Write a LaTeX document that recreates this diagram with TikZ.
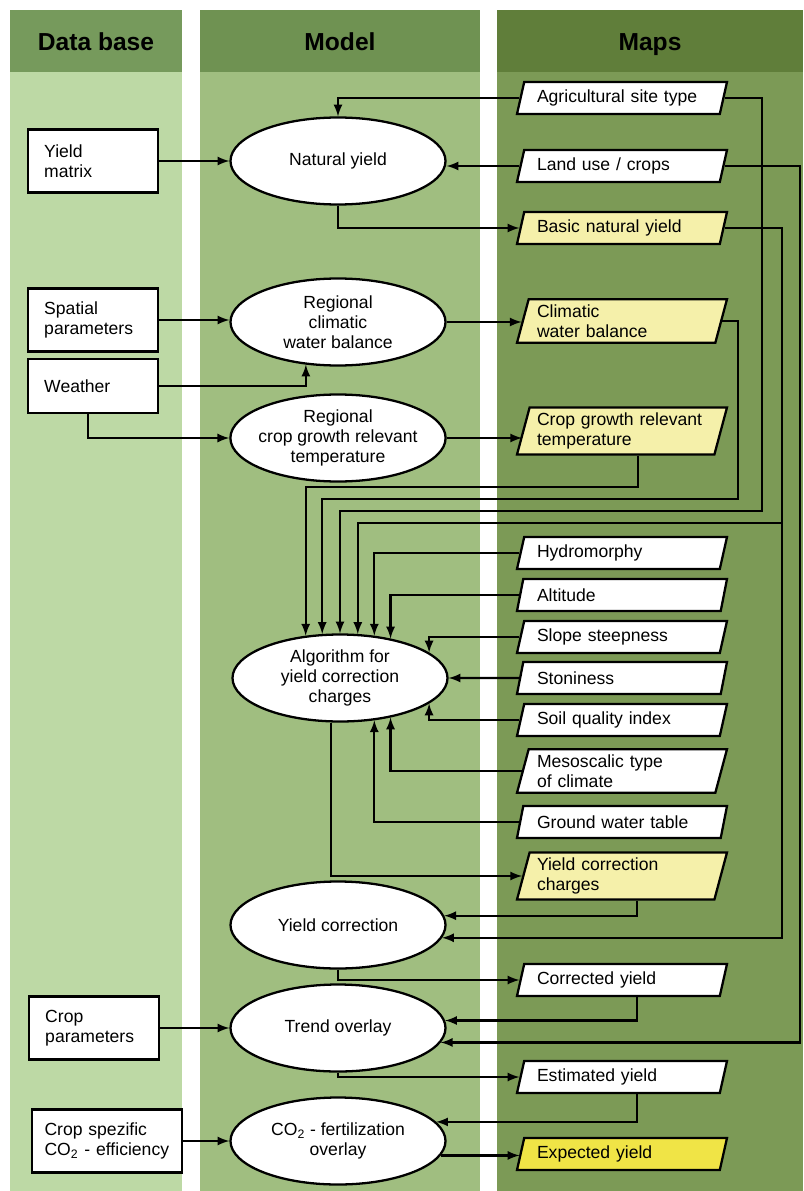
\documentclass[tikz,border=0pt]{standalone}
\usepackage{fontspec}
\setmainfont{Liberation Sans}
\usepackage{tikz}
\usetikzlibrary{shapes.geometric}
\definecolor{dbhead}{HTML}{769A5C}
\definecolor{dbbody}{HTML}{BDD9A5}
\definecolor{mohead}{HTML}{6F9252}
\definecolor{mobody}{HTML}{A0BE80}
\definecolor{mphead}{HTML}{607E3A}
\definecolor{mpbody}{HTML}{7C9A56}
\definecolor{paleyel}{HTML}{F5F0AA}
\definecolor{brightyel}{HTML}{F0E446}
\tikzstyle{every picture}=[->,>=latex]
\tikzstyle{dbbox}=[draw,fill=white,rectangle,minimum width=2.6cm,minimum height=1.26cm,text width=1.95cm,align=left,inner sep=2pt]
\tikzstyle{modell}=[draw,fill=white,ellipse,minimum width=4.3cm,minimum height=1.74cm,align=center,inner sep=0pt]
\tikzstyle{mapbox}=[draw,fill=white,trapezium,trapezium left angle=75,trapezium right angle=105,trapezium stretches body,minimum width=4.2cm,minimum height=0.64cm,text width=3.4cm,align=left,inner xsep=2pt,inner ysep=3pt]
\tikzstyle{head}=[anchor=base,font=\fontsize{14}{16}\selectfont\bfseries]

\begin{document}
\begin{tikzpicture}[x=0.2mm,y=-0.2mm,line width=1.3pt,font=\fontsize{10}{11.5}\selectfont]
    \useasboundingbox (0,0) rectangle (803,1191);
    % Columns
    \fill[dbhead] (10,10) rectangle (182,72);
    \fill[dbbody] (10,72) rectangle (182,1191);
    \fill[mohead] (200,10) rectangle (480,72);
    \fill[mobody] (200,72) rectangle (480,1191);
    \fill[mphead] (497,10) rectangle (803,72);
    \fill[mpbody] (497,72) rectangle (803,1191);
    \node[head] (dbh) at (96,51) {Data base};
    \node[head] (moh) at (340,51) {Model};
    \node[head] (mph) at (650,51) {Maps};
    % Data base
    \node[dbbox] (ym) at (93,161) {Yield\\matrix};
    \node[dbbox] (sp) at (93,320) {Spatial\\parameters};
    \node[dbbox,minimum height=1.08cm] (we) at (93,386) {Weather};
    \node[dbbox] (cp) at (94,1028) {Crop\\parameters};
    \node[dbbox,minimum width=3cm,text width=2.5cm] (cs) at (107,1141) {Crop spezific\\CO\textsubscript{2} - efficiency};
    % Model
    \node[modell] (ny) at (338,161) {Natural yield};
    \node[modell] (cwb) at (338,322) {Regional\\climatic\\water balance};
    \node[modell,inner xsep=-2pt] (te) at (338,438) {Regional\\crop growth relevant\\temperature};
    \node[modell] (algo) at (340,678) {Algorithm for\\yield correction\\charges};
    \node[modell] (yc) at (338,925) {Yield correction};
    \node[modell] (tov) at (338,1028) {Trend overlay};
    \node[modell] (co2) at (338,1141) {CO\textsubscript{2} - fertilization\\overlay};
    % Maps
    \node[mapbox] (ag) at (622,98) {Agricultural site type};
    \node[mapbox] (lu) at (622,166) {Land use / crops};
    \node[mapbox,fill=paleyel] (bny) at (622,228) {Basic natural yield};
    \node[mapbox,fill=paleyel] (cwbm) at (622,321) {Climatic\\water balance};
    \node[mapbox,fill=paleyel] (tmap) at (622,431) {Crop growth relevant\\temperature};
    \node[mapbox] (hyd) at (622,553) {Hydromorphy};
    \node[mapbox] (alt) at (622,595) {Altitude};
    \node[mapbox] (slo) at (622,637) {Slope steepness};
    \node[mapbox] (sto) at (622,678) {Stoniness};
    \node[mapbox] (soi) at (622,720) {Soil quality index};
    \node[mapbox] (mes) at (622,771) {Mesoscalic type\\of climate};
    \node[mapbox] (gwt) at (622,822) {Ground water table};
    \node[mapbox,fill=paleyel] (ycc) at (622,876) {Yield correction\\charges};
    \node[mapbox] (cy) at (622,980) {Corrected yield};
    \node[mapbox] (ey) at (622,1077) {Estimated yield};
    \node[mapbox,fill=brightyel] (exy) at (622,1154) {Expected yield};
    % Natural yield
    \draw (ym) -- (ny);
    \draw (ag.west) -| (ny.north);
    \draw (lu.west) -- (lu.west -| ny.east);
    \draw (ny.south) |- (bny.west);
    % Climate
    \draw (sp.east) -- (sp.east -| cwb.west);
    \draw (we.east) -| (cwb.-127);
    \draw ([xshift=-1mm]we.south) |- (te.west);
    \draw (cwb.east) -- (cwb.east -| cwbm.west);
    \draw (te.east) -- (te.east -| tmap.west);
    % Inputs of the algorithm
    \draw ([xshift=3.2mm]tmap.south) |- (500,487) -| (algo.129);
    \draw (cwbm.east) -| (738,499) -| (algo.112);
    \draw (ag.east) -| (762,511) -| (algo.north);
    \draw (bny.east) -| (782,523) -| (algo.68);
    \draw (hyd.west) -| (algo.51);
    \draw (alt.west) -| (algo.38);
    \draw (slo.west) -| (algo.16);
    \draw (sto) -- (algo);
    \draw (soi.west) -| (algo.-16);
    \draw (mes.west) -| (algo.-38);
    \draw (gwt.west) -| (algo.-51);
    % Yield correction
    \draw ([xshift=-1.8mm]algo.south) |- (ycc.west);
    \draw ([xshift=3mm]ycc.south) |- (yc.5);
    \draw (bny.east) -| (782,600) |- (yc.-7);
    \draw (yc.south) |- (cy.west);
    % Trend overlay
    \draw ([xshift=3mm]cy.south) |- (tov.4);
    \draw (lu.east) -| (800,600) |- (tov.-8);
    \draw (cp.east) -- (cp.east -| tov.west);
    \draw (tov.south) |- (ey.west);
    % CO2 overlay
    \draw ([xshift=3mm]ey.south) |- (co2.11);
    \draw (cs) -- (co2);
    \draw (co2.-8) -- (co2.-8 -| exy.west);
\end{tikzpicture}
\end{document}
